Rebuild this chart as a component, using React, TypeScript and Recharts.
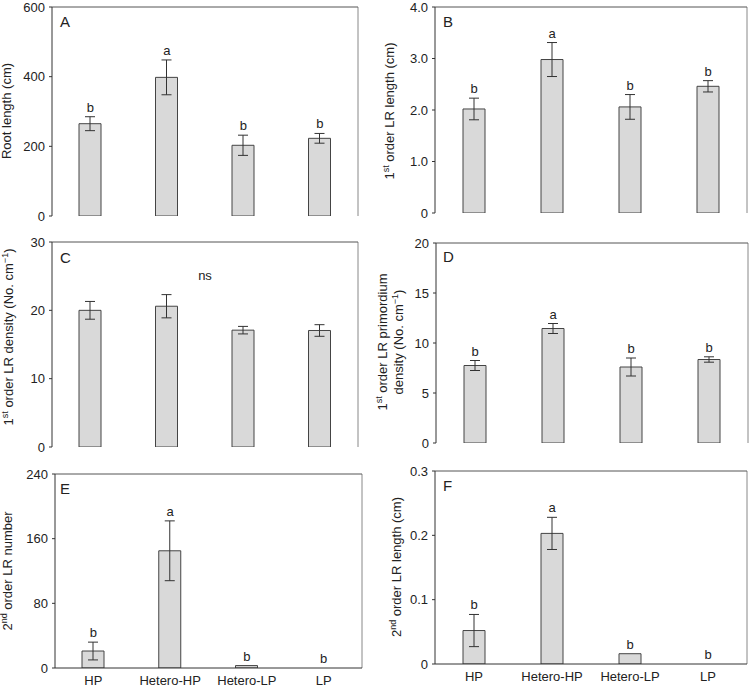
import React from 'react';
import { ComposedChart, Bar, ErrorBar, XAxis, YAxis, Scatter, ReferenceLine, CartesianGrid } from 'recharts';

const categories = ['HP', 'Hetero-HP', 'Hetero-LP', 'LP'];

// A: Root length (cm)
const rootLength = [265, 398, 203, 223];
const rootLengthErr = [20, 50, 29, 14];
const rootLengthSig = ['b', 'a', 'b', 'b'];
const rootLengthTicks = [0, 200, 400, 600];

// B: 1st order LR length (cm)
const lr1Length = [2.02, 2.98, 2.06, 2.46];
const lr1LengthErr = [0.21, 0.33, 0.24, 0.11];
const lr1LengthSig = ['b', 'a', 'b', 'b'];
const lr1LengthTicks = [0, 1, 2, 3, 4];

// C: 1st order LR density (No. cm-1)
const lr1Density = [20.0, 20.6, 17.1, 17.05];
const lr1DensityErr = [1.3, 1.7, 0.55, 0.85];
const lr1DensityTicks = [0, 10, 20, 30];

// D: 1st order LR primordium density (No. cm-1)
const lr1Primordium = [7.75, 11.45, 7.6, 8.35];
const lr1PrimordiumErr = [0.5, 0.5, 0.9, 0.27];
const lr1PrimordiumSig = ['b', 'a', 'b', 'b'];
const lr1PrimordiumTicks = [0, 5, 10, 15, 20];

// E: 2nd order LR number
const lr2Number = [21, 145, 3, 0];
const lr2NumberErr = [11, 37, 0, 0];
const lr2NumberSig = ['b', 'a', 'b', 'b'];
const lr2NumberTicks = [0, 80, 160, 240];

// F: 2nd order LR length (cm)
const lr2Length = [0.052, 0.203, 0.016, 0];
const lr2LengthErr = [0.025, 0.025, 0, 0];
const lr2LengthSig = ['b', 'a', 'b', 'b'];
const lr2LengthTicks = [0, 0.1, 0.2, 0.3];

const FONT = '"Liberation Sans", Arial, Helvetica, sans-serif';
const TEXT = '#222';

const fmtInt = (v: number) => String(v);
const fmt1 = (v: number) => (v === 0 ? '0' : v.toFixed(1));

const SigShape = (props: any) => {
  const { cx, cy, payload } = props;
  if (!payload || !payload.sig) return <g />;
  return (
    <text x={cx} y={cy - 5} textAnchor="middle" fontSize={13} fontFamily={FONT} fill={TEXT}>
      {payload.sig}
    </text>
  );
};

const rightEdge = (props: any) => {
  const o = props && props.offset ? props.offset : null;
  if (!o) return [];
  return [o.left + o.width];
};

type PanelProps = {
  left: number;
  top: number;
  width: number;
  height: number;
  margin: { top: number; right: number; bottom: number; left: number };
  yWidth: number;
  xHeight: number;
  showX: boolean;
  values: number[];
  errs: number[];
  sigs?: string[];
  ticks: number[];
  fmt: (v: number) => string;
};

function Panel(p: PanelProps) {
  const data = categories.map((c, i) => ({
    cat: c,
    value: p.values[i],
    err: p.errs[i],
    sig: p.sigs ? p.sigs[i] : '',
    top: p.values[i] + p.errs[i],
  }));
  const yMax = p.ticks[p.ticks.length - 1];
  const domain: [number, number] = [0, yMax];
  return (
    <div style={{ position: 'absolute', left: p.left, top: p.top }}>
      <ComposedChart width={p.width} height={p.height} data={data} margin={p.margin}>
        <CartesianGrid
          horizontal={false}
          vertical={true}
          stroke="#888"
          strokeWidth={1}
          verticalCoordinatesGenerator={rightEdge}
        />
        <XAxis
          dataKey="cat"
          xAxisId={0}
          height={p.xHeight}
          tick={p.showX ? { fill: TEXT, fontSize: 13, fontFamily: FONT } : false}
          tickLine={false}
          tickSize={0}
          tickMargin={8}
          interval={0}
          axisLine={{ stroke: '#333' }}
        />
        <YAxis
          yAxisId={0}
          width={p.yWidth}
          domain={domain}
          ticks={p.ticks}
          interval={0}
          tickFormatter={p.fmt}
          tickSize={3}
          tickMargin={4}
          axisLine={{ stroke: '#333' }}
          tickLine={{ stroke: '#333' }}
          tick={{ fill: TEXT, fontSize: 13, fontFamily: FONT }}
          allowDataOverflow
        />
        <ReferenceLine y={yMax} xAxisId={0} yAxisId={0} stroke="#555" strokeWidth={1} />
        <Bar
          dataKey="value"
          xAxisId={0}
          yAxisId={0}
          barSize={22}
          fill="#d9d9d9"
          stroke="#444"
          strokeWidth={1}
          isAnimationActive={false}
        >
          <ErrorBar dataKey="err" width={5} stroke="#333" strokeWidth={1} direction="y" />
        </Bar>
        {p.sigs && (
          <Scatter
            dataKey="top"
            xAxisId={0}
            yAxisId={0}
            isAnimationActive={false}
            shape={SigShape}
          />
        )}
      </ComposedChart>
    </div>
  );
}

type Seg = { t: string; sup?: boolean };

function VTitle({ x, y, segs }: { x: number; y: number; segs: Seg[] }) {
  return (
    <text
      x={x}
      y={y}
      dy="0.35em"
      transform={`rotate(-90, ${x}, ${y})`}
      textAnchor="middle"
      fontSize={13}
      fontFamily={FONT}
      fill={TEXT}
    >
      {segs.map((s, i) => {
        const prevSup = i > 0 && segs[i - 1].sup;
        if (s.sup) {
          return (
            <tspan key={i} dy={-5} fontSize={9}>
              {s.t}
            </tspan>
          );
        }
        return (
          <tspan key={i} dy={prevSup ? 5 : 0}>
            {s.t}
          </tspan>
        );
      })}
    </text>
  );
}

const titleA: Seg[] = [{ t: 'Root length (cm)' }];
const titleB: Seg[] = [{ t: '1' }, { t: 'st', sup: true }, { t: ' order LR length (cm)' }];
const titleC: Seg[] = [
  { t: '1' },
  { t: 'st', sup: true },
  { t: ' order LR density (No. cm' },
  { t: '−1', sup: true },
  { t: ')' },
];
const titleD1: Seg[] = [{ t: '1' }, { t: 'st', sup: true }, { t: ' order LR primordium' }];
const titleD2: Seg[] = [{ t: 'density (No. cm' }, { t: '−1', sup: true }, { t: ')' }];
const titleE: Seg[] = [{ t: '2' }, { t: 'nd', sup: true }, { t: ' order LR number' }];
const titleF: Seg[] = [{ t: '2' }, { t: 'nd', sup: true }, { t: ' order LR length (cm)' }];

const panelLetters = [
  { t: 'A', x: 60, y: 27 },
  { t: 'B', x: 443, y: 27 },
  { t: 'C', x: 60, y: 263 },
  { t: 'D', x: 443, y: 262 },
  { t: 'E', x: 60, y: 494 },
  { t: 'F', x: 443, y: 491 },
];

export default function App() {
  return (
    <div
      style={{
        position: 'absolute',
        left: 0,
        top: 0,
        width: 750,
        height: 688,
        background: '#fff',
        fontFamily: FONT,
      }}
    >
      <Panel
        left={0}
        top={0}
        width={375}
        height={225}
        margin={{ top: 7, right: 17, bottom: 9, left: 0 }}
        yWidth={52}
        xHeight={0}
        showX={false}
        values={rootLength}
        errs={rootLengthErr}
        sigs={rootLengthSig}
        ticks={rootLengthTicks}
        fmt={fmtInt}
      />
      <Panel
        left={375}
        top={0}
        width={375}
        height={225}
        margin={{ top: 7, right: 3, bottom: 12, left: 0 }}
        yWidth={60}
        xHeight={0}
        showX={false}
        values={lr1Length}
        errs={lr1LengthErr}
        sigs={lr1LengthSig}
        ticks={lr1LengthTicks}
        fmt={fmt1}
      />
      <Panel
        left={0}
        top={225}
        width={375}
        height={235}
        margin={{ top: 17, right: 17, bottom: 13, left: 0 }}
        yWidth={52}
        xHeight={0}
        showX={false}
        values={lr1Density}
        errs={lr1DensityErr}
        ticks={lr1DensityTicks}
        fmt={fmtInt}
      />
      <Panel
        left={375}
        top={225}
        width={375}
        height={230}
        margin={{ top: 18, right: 2, bottom: 12, left: 0 }}
        yWidth={61}
        xHeight={0}
        showX={false}
        values={lr1Primordium}
        errs={lr1PrimordiumErr}
        sigs={lr1PrimordiumSig}
        ticks={lr1PrimordiumTicks}
        fmt={fmtInt}
      />
      <Panel
        left={0}
        top={450}
        width={375}
        height={238}
        margin={{ top: 24, right: 13, bottom: 0, left: 0 }}
        yWidth={55}
        xHeight={20}
        showX={true}
        values={lr2Number}
        errs={lr2NumberErr}
        sigs={lr2NumberSig}
        ticks={lr2NumberTicks}
        fmt={fmtInt}
      />
      <Panel
        left={375}
        top={450}
        width={375}
        height={238}
        margin={{ top: 21, right: 3, bottom: 0, left: 0 }}
        yWidth={60}
        xHeight={24}
        showX={true}
        values={lr2Length}
        errs={lr2LengthErr}
        sigs={lr2LengthSig}
        ticks={lr2LengthTicks}
        fmt={fmt1}
      />
      <svg
        width={750}
        height={688}
        style={{ position: 'absolute', left: 0, top: 0, pointerEvents: 'none' }}
      >
        <VTitle x={11} y={111} segs={titleA} />
        <VTitle x={394} y={111} segs={titleB} />
        <VTitle x={13} y={337} segs={titleC} />
        <VTitle x={387} y={342} segs={titleD1} />
        <VTitle x={403} y={342} segs={titleD2} />
        <VTitle x={12} y={571} segs={titleE} />
        <VTitle x={401} y={567} segs={titleF} />
        {panelLetters.map((l) => (
          <text key={l.t} x={l.x} y={l.y} fontSize={15} fontFamily={FONT} fill={TEXT}>
            {l.t}
          </text>
        ))}
        <text x={205} y={280} textAnchor="middle" fontSize={13} fontFamily={FONT} fill={TEXT}>
          ns
        </text>
      </svg>
    </div>
  );
}
